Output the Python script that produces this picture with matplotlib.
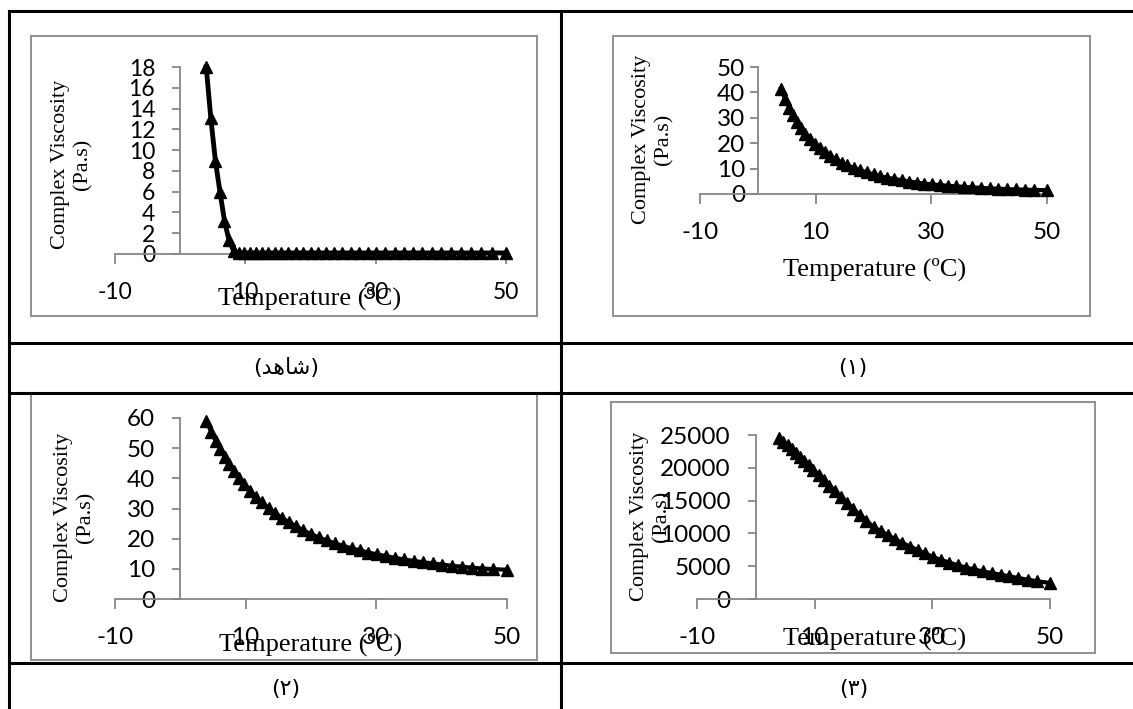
import matplotlib
matplotlib.use("Agg")
import matplotlib.pyplot as plt
from matplotlib.patches import Rectangle
from matplotlib.lines import Line2D

plt.rcParams['axes.unicode_minus'] = False

# ---------------- data ----------------
temperature = [4.0, 4.7, 5.4, 6.1, 6.8, 7.5, 8.2, 9.0, 9.8, 10.7, 11.6, 12.5, 13.5, 14.5,
               15.5, 16.6, 17.7, 18.8, 20.0, 21.2, 22.4, 23.6, 24.9, 26.2, 27.5, 28.8,
               30.1, 31.5, 32.9, 34.3, 35.7, 37.1, 38.6, 40.1, 41.6, 43.1, 44.6, 46.2,
               47.8, 50.0]

visc_control = [18.0, 13.1, 9.0, 6.0, 3.2, 1.3, 0.3, 0.1, 0.1, 0.1, 0.1, 0.1, 0.1, 0.1,
                0.1, 0.1, 0.1, 0.1, 0.1, 0.1, 0.1, 0.1, 0.1, 0.1, 0.1, 0.1,
                0.1, 0.1, 0.1, 0.1, 0.1, 0.1, 0.1, 0.1, 0.1, 0.1, 0.1, 0.1,
                0.1, 0.1]

visc_1 = [41.5, 37.5, 34.0, 31.0, 28.3, 26.0, 23.8, 21.7, 19.8, 18.0, 16.4, 15.0, 13.6, 12.4,
          11.3, 10.2, 9.3, 8.5, 7.7, 7.0, 6.4, 5.9, 5.4, 4.9, 4.5, 4.1,
          3.8, 3.5, 3.2, 3.0, 2.8, 2.6, 2.4, 2.2, 2.1, 1.9, 1.8, 1.7,
          1.6, 1.5]

visc_2 = [59.0, 55.5, 52.5, 49.8, 47.2, 44.8, 42.5, 40.2, 38.0, 35.8, 33.8, 32.0, 30.2, 28.5,
          27.0, 25.5, 24.1, 22.8, 21.5, 20.4, 19.4, 18.5, 17.6, 16.8, 16.1, 15.4,
          14.8, 14.2, 13.6, 13.1, 12.6, 12.2, 11.8, 11.4, 11.0, 10.7, 10.4, 10.1,
          9.9, 9.7]

visc_3 = [24500, 24000, 23400, 22800, 22200, 21600, 21000, 20400, 19700, 18900, 18100, 17300,
          16400, 15500, 14600, 13700, 12800, 11900, 11000, 10350, 9750, 9150, 8550, 8000,
          7450, 6950, 6400, 5950, 5550, 5150, 4800, 4500, 4200, 3950, 3700, 3450, 3200,
          2950, 2700, 2450]

x_ticks = [-10, 10, 30, 50]
y_ticks_control = [0, 2, 4, 6, 8, 10, 12, 14, 16, 18]
y_ticks_1 = [0, 10, 20, 30, 40, 50]
y_ticks_2 = [0, 10, 20, 30, 40, 50, 60]
y_ticks_3 = [0, 5000, 10000, 15000, 20000, 25000]

x_title = "Temperature (\u00baC)"
y_title = "Complex Viscosity\n(Pa.s)"
# captions (Persian, written with Arabic presentation forms for display)
caption_control = "(\ufeaa\ufeeb\ufe8e\ufeb7)"   # (شاهد)
caption_1 = "(\u06f1)"
caption_2 = "(\u06f2)"
caption_3 = "(\u06f3)"

# ---------------- layout ----------------
W, H = 1133, 709
fig = plt.figure(figsize=(W / 100, H / 100), dpi=100)
fig.patch.set_facecolor('white')


def fx(x):
    return x / W


def fy(y):
    return 1 - y / H


GRAY = '#868686'
NUM_FONT = 'Lato'
SERIF = 'Liberation Serif'

# table lines
tl = 2.2
for (x0, y0, x1, y1) in [(9, 11, 1133, 11), (9, 343, 1133, 343), (9, 393, 1133, 393),
                         (9, 663, 1133, 663), (9, 11, 9, 709), (561, 11, 561, 709)]:
    fig.add_artist(Line2D([fx(x0), fx(x1)], [fy(y0), fy(y1)], color='black', lw=tl,
                          transform=fig.transFigure, solid_capstyle='projecting'))

# chart frames (left, top, right, bottom) in pixels
frames = [(31, 36, 537, 316), (613, 36, 1090, 316), (31, 394, 537, 660), (611, 402, 1095, 653)]
for (l, t, r, b) in frames:
    fig.add_artist(Rectangle((fx(l), fy(b)), fx(r) - fx(l), fy(t) - fy(b), fill=False,
                             ec='#8f8f8f', lw=1.4, transform=fig.transFigure))

charts = [
    dict(x0=115, x1=506, y0=254, y1=67, ymax=18, yticks=y_ticks_control, vals=visc_control,
         ypad=12, xt=(310, 298), yt=(72, 164), fs=16.5, lw=3.5),
    dict(x0=700, x1=1047, y0=194, y1=67, ymax=50, yticks=y_ticks_1, vals=visc_1,
         ypad=3, xt=(875, 269), yt=(653, 139), fs=17.5, lw=3.0),
    dict(x0=115, x1=507, y0=599, y1=418, ymax=60, yticks=y_ticks_2, vals=visc_2,
         ypad=12, xt=(311, 644), yt=(75, 517), fs=17.5, lw=3.0),
    dict(x0=697, x1=1050, y0=599, y1=435, ymax=25000, yticks=y_ticks_3, vals=visc_3,
         ypad=12, xt=(875, 638), yt=(651, 516), fs=17.5, lw=3.0),
]

for c in charts:
    ax = fig.add_axes([fx(c['x0']), fy(c['y0']), fx(c['x1']) - fx(c['x0']),
                       fy(c['y1']) - fy(c['y0'])])
    ax.patch.set_visible(False)
    ax.set_xlim(-10, 50)
    ax.set_ylim(0, c['ymax'])
    for s in ['top', 'right']:
        ax.spines[s].set_visible(False)
    ax.spines['left'].set_position(('data', 0))
    ax.spines['left'].set_bounds(0, c['ymax'])
    ax.spines['bottom'].set_bounds(-10, 50)
    for s in ['left', 'bottom']:
        ax.spines[s].set_color(GRAY)
        ax.spines[s].set_linewidth(1.3)
    ax.set_xticks(x_ticks)
    ax.set_xticklabels([str(v) for v in x_ticks])
    ax.set_yticks(c['yticks'])
    ax.set_yticklabels([str(v) for v in c['yticks']])
    ax.tick_params(axis='y', direction='out', length=6, width=1.3, color=GRAY,
                   pad=c['ypad'], labelsize=c['fs'])
    ax.tick_params(axis='x', direction='out', length=7, width=1.3, color=GRAY,
                   pad=13, labelsize=c['fs'])
    for lab in ax.get_xticklabels() + ax.get_yticklabels():
        lab.set_fontfamily(NUM_FONT)
    ax.plot(temperature, c['vals'], color='black', lw=c['lw'], marker='^', ms=8,
            clip_on=False, zorder=5)
    fig.text(fx(c['xt'][0]), fy(c['xt'][1]), x_title, family=SERIF, fontsize=19,
             ha='center', va='center')
    fig.text(fx(c['yt'][0]), fy(c['yt'][1]), y_title, family=SERIF, fontsize=16,
             ha='center', va='center', rotation=90, multialignment='center',
             linespacing=1.25)

# captions
for txt, (x, y) in [(caption_control, (286, 368)), (caption_1, (853, 368)),
                    (caption_2, (286, 689)), (caption_3, (854, 689))]:
    fig.text(fx(x), fy(y), txt, family='DejaVu Sans', fontsize=16, ha='center', va='center')

fig.savefig('out.png', dpi=100)
